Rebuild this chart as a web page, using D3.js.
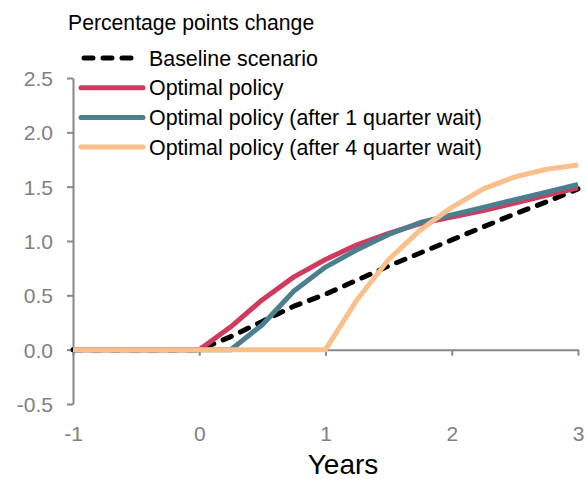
<!DOCTYPE html>
<html>
<head>
<meta charset="utf-8">
<script src="https://cdn.jsdelivr.net/npm/d3@7"></script>
<style>
  html, body { margin: 0; padding: 0; background: #fff; }
  svg { display: block; font-family: "Liberation Sans", Arial, sans-serif; }
  .axis path, .axis line { stroke: #878787; stroke-width: 2; }
  .axis text { fill: #808080; font-size: 21px; font-family: "Liberation Sans", Arial, sans-serif; }
</style>
</head>
<body>
<div id="chart"></div>
<script>
// 데이터 (분기별, 연 단위)
const quarters = [-1, -0.75, -0.5, -0.25, 0, 0.25, 0.5, 0.75, 1, 1.25, 1.5, 1.75, 2, 2.25, 2.5, 2.75, 3];
const baseline = [0, 0, 0, 0, 0, 0.12, 0.26, 0.40, 0.51, 0.64, 0.77, 0.89, 1.01, 1.13, 1.25, 1.36, 1.48];
const optimal  = [0, 0, 0, 0, 0, 0.21, 0.46, 0.67, 0.83, 0.965, 1.07, 1.16, 1.22, 1.28, 1.35, 1.42, 1.49];
const wait1q   = [0, 0, 0, 0, 0, 0, 0.23, 0.54, 0.76, 0.92, 1.06, 1.17, 1.24, 1.31, 1.38, 1.45, 1.52];
const wait4q   = [0, 0, 0, 0, 0, 0, 0, 0, 0, 0.46, 0.83, 1.10, 1.31, 1.48, 1.59, 1.66, 1.70];

const xTicks = [-1, 0, 1, 2, 3];
const yTicks = [-0.5, 0, 0.5, 1, 1.5, 2, 2.5];
const seriesNames = [
  "Baseline scenario",
  "Optimal policy",
  "Optimal policy (after 1 quarter wait)",
  "Optimal policy (after 4 quarter wait)"
];
const titleText = "Percentage points change";
const xTitle = "Years";

(() => {
  const W = 587, H = 479;
  const margin = { top: 78, right: 9, bottom: 75, left: 73 };

  const svg = d3.select("#chart").append("svg")
    .attr("width", W).attr("height", H);

  const x = d3.scaleLinear().domain([-1, 3]).range([margin.left, W - margin.right]);
  const y = d3.scaleLinear().domain([-0.5, 2.5]).range([H - margin.bottom, margin.top]);

  const fmtY = v => (v < 0 ? "-" : "") + Math.abs(v).toFixed(1);

  // === 축
  const yAxis = svg.append("g").attr("class", "axis")
    .attr("transform", `translate(${margin.left},0)`)
    .call(d3.axisLeft(y).tickValues(yTicks).tickSize(6).tickSizeOuter(0).tickPadding(14).tickFormat(fmtY));
  yAxis.selectAll("text").attr("dy", "0.36em");

  svg.append("g").attr("class", "axis")
    .attr("transform", `translate(0,${y(0)})`)
    .call(d3.axisBottom(x).tickValues(xTicks).tickSize(6).tickSizeOuter(0).tickPadding(70).tickFormat(d => d < 0 ? "-" + Math.abs(d) : d));

  // === 라인
  const line = d3.line().x((d, i) => x(quarters[i])).y(d => y(d));

  const groups = [
    { key: seriesNames[0], data: baseline, color: "#000000", dash: "9,10" },
    { key: seriesNames[1], data: optimal,  color: "#d03b5d", dash: null },
    { key: seriesNames[2], data: wait1q,   color: "#4b7f8f", dash: null },
    { key: seriesNames[3], data: wait4q,   color: "#fbbf8b", dash: null },
  ];

  groups.forEach(g => {
    svg.append("path")
      .datum(g.data)
      .attr("fill", "none")
      .attr("stroke", g.color)
      .attr("stroke-width", 5)
      .attr("stroke-linecap", g.dash ? "round" : "butt")
      .attr("stroke-linejoin", "round")
      .attr("stroke-dasharray", g.dash)
      .attr("d", line);
  });

  // === 제목
  svg.append("text")
    .attr("x", 68).attr("y", 30)
    .attr("font-size", 21.2).attr("fill", "#000")
    .text(titleText);

  svg.append("text")
    .attr("x", 343).attr("y", 474)
    .attr("text-anchor", "middle")
    .attr("font-size", 28).attr("fill", "#000")
    .text(xTitle);

  // === 범례
  const legend = svg.append("g");
  groups.forEach((g, i) => {
    const ly = 58 + i * 29.7;
    legend.append("line")
      .attr("x1", g.dash ? 84 : 81).attr("x2", g.dash ? 140 : 143)
      .attr("y1", ly).attr("y2", ly)
      .attr("stroke", g.color).attr("stroke-width", 5)
      .attr("stroke-linecap", "round")
      .attr("stroke-dasharray", g.dash);
    legend.append("text")
      .attr("x", 149).attr("y", ly + 7.5)
      .attr("font-size", 21.4).attr("fill", "#000")
      .text(g.key);
  });
})();
</script>
</body>
</html>
